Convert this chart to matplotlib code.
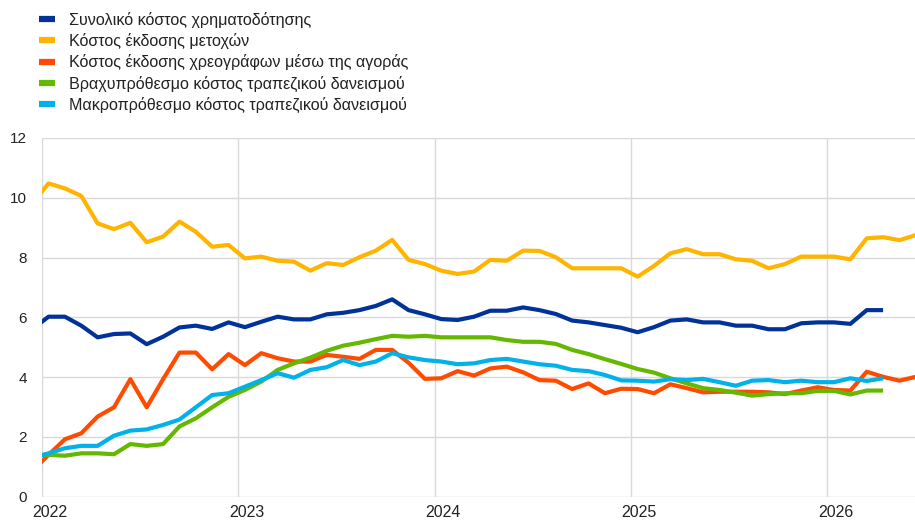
import numpy as np
import matplotlib
matplotlib.use("Agg")
import matplotlib.pyplot as plt

# Monthly observations, first point = Dec 2021
total = [5.6, 6.02, 6.02, 5.72, 5.33, 5.44, 5.46, 5.10, 5.35, 5.66,
         5.72, 5.61, 5.83, 5.67, 5.85, 6.02, 5.93, 5.93, 6.10,
         6.15, 6.24, 6.38, 6.60, 6.24, 6.10, 5.94, 5.91, 6.02,
         6.22, 6.22, 6.33, 6.24, 6.11, 5.89, 5.83, 5.74, 5.65,
         5.50, 5.67, 5.89, 5.93, 5.83, 5.83, 5.72, 5.72,
         5.60, 5.60, 5.80, 5.83, 5.83, 5.78, 6.24, 6.24]
equity = [9.8, 10.48, 10.31, 10.06, 9.14, 8.95, 9.16, 8.51, 8.70, 9.20,
          8.86, 8.36, 8.42, 7.97, 8.03, 7.89, 7.86, 7.56, 7.81,
          7.75, 8.01, 8.23, 8.59, 7.92, 7.78, 7.56, 7.45, 7.53,
          7.92, 7.89, 8.23, 8.22, 8.01, 7.64, 7.64, 7.64, 7.64,
          7.36, 7.72, 8.14, 8.28, 8.11, 8.11, 7.94, 7.89,
          7.64, 7.78, 8.03, 8.03, 8.03, 7.94, 8.64, 8.68, 8.58, 8.75]
market_debt = [0.85, 1.4, 1.92, 2.12, 2.68, 2.99, 3.93, 2.99, 3.93, 4.82,
               4.82, 4.26, 4.77, 4.40, 4.80, 4.63, 4.52, 4.52, 4.74,
               4.68, 4.61, 4.91, 4.91, 4.48, 3.94, 3.96, 4.20, 4.05,
               4.29, 4.35, 4.16, 3.90, 3.88, 3.60, 3.79, 3.46, 3.61,
               3.60, 3.46, 3.76, 3.63, 3.49, 3.51, 3.51, 3.51,
               3.49, 3.43, 3.55, 3.66, 3.57, 3.55, 4.18, 4.01, 3.88, 4.01]
short_bank = [1.38, 1.40, 1.37, 1.45, 1.45, 1.42, 1.76, 1.70, 1.76, 2.35,
              2.62, 2.99, 3.34, 3.57, 3.85, 4.24, 4.46, 4.65, 4.88,
              5.05, 5.15, 5.27, 5.38, 5.35, 5.38, 5.33, 5.33, 5.33,
              5.33, 5.24, 5.18, 5.18, 5.11, 4.91, 4.77, 4.60, 4.44,
              4.27, 4.15, 3.96, 3.79, 3.63, 3.57, 3.48, 3.38,
              3.43, 3.46, 3.46, 3.54, 3.54, 3.42, 3.55, 3.55]
long_bank = [1.3, 1.45, 1.62, 1.70, 1.70, 2.04, 2.21, 2.25, 2.40, 2.58,
             2.99, 3.40, 3.46, 3.68, 3.90, 4.13, 3.98, 4.24, 4.33,
             4.57, 4.40, 4.52, 4.80, 4.66, 4.57, 4.52, 4.43, 4.46,
             4.57, 4.61, 4.52, 4.43, 4.38, 4.24, 4.20, 4.07, 3.89,
             3.88, 3.85, 3.93, 3.90, 3.94, 3.83, 3.71, 3.88,
             3.90, 3.83, 3.88, 3.83, 3.83, 3.96, 3.87, 3.96]

labels = ["Συνολικό κόστος χρηματοδότησης",
          "Κόστος έκδοσης μετοχών",
          "Κόστος έκδοσης χρεογράφων μέσω της αγοράς",
          "Βραχυπρόθεσμο κόστος τραπεζικού δανεισμού",
          "Μακροπρόθεσμο κόστος τραπεζικού δανεισμού"]
colors = ["#003299", "#ffb400", "#ff4b00", "#65b800", "#00b1ea"]
years = ["2022", "2023", "2024", "2025", "2026"]
yticks = [0, 2, 4, 6, 8, 10, 12]

plt.rcParams['font.family'] = ['Liberation Sans', 'DejaVu Sans']

fig = plt.figure(figsize=(9.15, 5.22), dpi=100)
ax = fig.add_axes([0.0459, 0.0485, 0.9541, 0.6873])

series = [total, equity, market_debt, short_bank, long_bank]
for vals, lab, col in zip(series, labels, colors):
    x = np.arange(len(vals)) - 1  # month index, 0 = Jan 2022
    ax.plot(x, vals, color=col, lw=3.0, label=lab, solid_joinstyle='round',
            solid_capstyle='butt')

offset = 0.4
major = [12 * i - offset for i in range(len(years))]
ax.set_xticks(major)
ax.set_xticklabels([])
ax.set_xticks([m + 0.5 for m in major], minor=True)
ax.set_xticklabels(years, minor=True)
ax.tick_params(axis='x', which='both', length=0)
ax.tick_params(axis='x', which='minor', pad=6, labelsize=11.5, colors='#222222')
ax.set_xlim(-offset, 52.95)
ax.set_ylim(0, 12)
ax.set_yticks(yticks)
ax.tick_params(axis='y', length=0, pad=11, labelsize=11, colors='#222222')
ax.grid(True, which='major', color='#d9d9d9', lw=1)
ax.set_axisbelow(True)
for s in ax.spines.values():
    s.set_visible(False)

leg = fig.legend(loc='upper left', bbox_to_anchor=(0.036, 0.99), frameon=False,
                 fontsize=11.6, handlelength=1.0, handletextpad=0.85,
                 labelspacing=0.33, borderaxespad=0)
for h in leg.get_lines():
    h.set_linewidth(4.5)
for t in leg.get_texts():
    t.set_color('#222222')

fig.savefig("out.png", dpi=100)
